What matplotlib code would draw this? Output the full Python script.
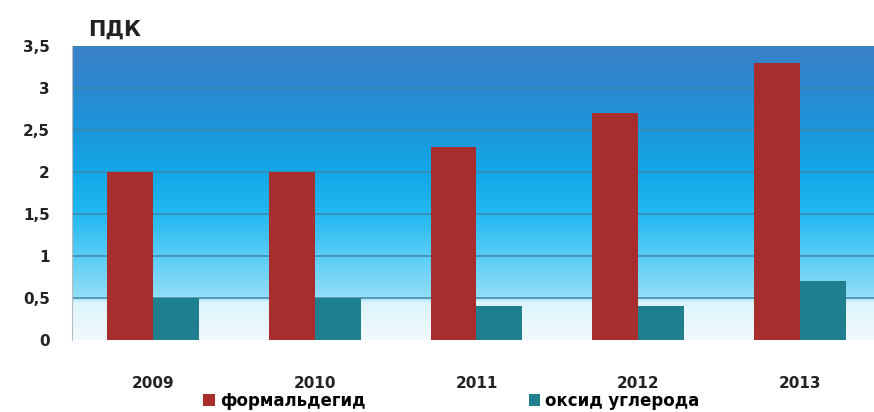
import numpy as np
import matplotlib.pyplot as plt
from matplotlib.colors import LinearSegmentedColormap

plt.rcParams['font.family'] = ['DejaVu Sans']

years = ['2009', '2010', '2011', '2012', '2013']
formaldehyde = [2.0, 2.0, 2.3, 2.7, 3.3]
carbon_oxide = [0.5, 0.5, 0.4, 0.4, 0.7]
yticks = [0, 0.5, 1, 1.5, 2, 2.5, 3, 3.5]
ytick_labels = ['0', '0,5', '1', '1,5', '2', '2,5', '3', '3,5']

fig = plt.figure(figsize=(8.74, 4.12), dpi=100)
ax = fig.add_axes([72 / 874, 1 - 340 / 412, (874 - 72) / 874, (340 - 46) / 412])

# фон: сверху синий, в середине голубой, внизу почти белый
bg = LinearSegmentedColormap.from_list('bg', [
    (0.0, '#f2fafd'),
    (0.125, '#dcf4fb'),
    (0.15, '#90dcf6'),
    (0.29, '#58ccf5'),
    (0.43, '#22b8f0'),
    (0.57, '#12a8e8'),
    (0.71, '#1a98dc'),
    (0.86, '#2a89d0'),
    (1.0, '#3a80c6'),
])
grad = np.linspace(0, 1, 256).reshape(-1, 1)
ax.imshow(grad, aspect='auto', cmap=bg, origin='lower',
          extent=[0, 1, 0, 1], transform=ax.transAxes, zorder=0)

x = np.arange(len(years))
w = 0.284
ax.bar(x - w / 2, formaldehyde, w, color='#a82d2d', label='формальдегид', zorder=3)
ax.bar(x + w / 2, carbon_oxide, w, color='#1f7f8e', label='оксид углерода', zorder=3)

for t in yticks[1:]:
    ax.axhline(t, color='#3d86a8', lw=1.3, alpha=0.85, zorder=1)

ax.set_xlim(-0.5, 4.457)
ax.set_ylim(0, 3.5)
ax.set_yticks(yticks)
ax.set_yticklabels(ytick_labels, fontsize=11, fontweight='bold', color='#222222')
ax.set_xticks(x)
ax.set_xticklabels(years, fontsize=11, fontweight='bold', color='#222222')
ax.tick_params(axis='y', length=0, pad=16)
ax.tick_params(axis='x', length=0, pad=26)
for s in ['top', 'right', 'bottom']:
    ax.spines[s].set_visible(False)
ax.spines['left'].set_color('#bbbbbb')

fig.text(88 / 874, 1 - 30 / 412, 'ПДК', fontsize=15, fontweight='bold',
         color='#222222', va='center')

fig.legend(loc='center left', bbox_to_anchor=(203 / 874, 1 - 401 / 412), ncol=2,
           frameon=False, prop={'weight': 'bold', 'size': 12},
           handlelength=0.7, handleheight=0.7, handletextpad=0.3,
           columnspacing=9.8, borderaxespad=0, borderpad=0)

fig.savefig('out.png', dpi=100)
